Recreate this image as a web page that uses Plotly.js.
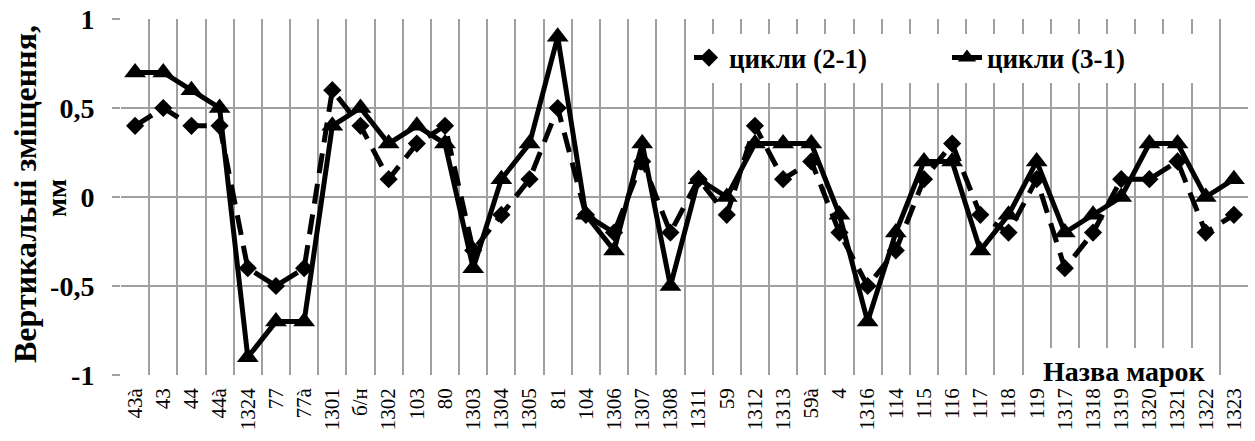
<!DOCTYPE html>
<html>
<head>
<meta charset="utf-8">
<script src="https://cdn.plot.ly/plotly-3.0.1.min.js"></script>
<style>
html,body{margin:0;padding:0;background:#fff;}
#chart{width:1255px;height:441px;}
</style>
</head>
<body>
<div id="chart"></div>
<script>
const categories = ['43à','43','44','44à','1324','77','77à','1301','б/н','1302','103','80','1303','1304','1305','81','104','1306','1307','1308','1311','59','1312','1313','59à','4','1316','114','115','116','117','118','119','1317','1318','1319','1320','1321','1322','1323'];
const cycles21 = [0.4,0.5,0.4,0.4,-0.4,-0.5,-0.4,0.6,0.4,0.1,0.3,0.4,-0.3,-0.1,0.1,0.5,-0.1,-0.2,0.2,-0.2,0.1,-0.1,0.4,0.1,0.2,-0.2,-0.5,-0.3,0.1,0.3,-0.1,-0.2,0.1,-0.4,-0.2,0.1,0.1,0.2,-0.2,-0.1];
const cycles31 = [0.7,0.7,0.6,0.5,-0.9,-0.7,-0.7,0.4,0.5,0.3,0.4,0.3,-0.4,0.1,0.3,0.9,-0.1,-0.3,0.3,-0.5,0.1,0,0.3,0.3,0.3,-0.1,-0.7,-0.2,0.2,0.2,-0.3,-0.1,0.2,-0.2,-0.1,0,0.3,0.3,0,0.1];
const yTickVals = [-1,-0.5,0,0.5,1];
const yTickText = ['-1','-0,5','0','0,5','1'];
const seriesNames = ['цикли (2-1)','цикли (3-1)'];

const W = 1255, H = 441;
const L = 121, R = 7, T = 19, B = 66;
const pw = W - L - R, ph = H - T - B;
const px = v => (v - L) / pw;
const py = v => (H - B - v) / ph;
const serif = '"Liberation Serif"';

const traces = [
  {x: categories, y: cycles21, name: seriesNames[0], type: 'scatter', mode: 'lines+markers',
   line: {color: '#000', width: 5, dash: '20px,11px'},
   marker: {symbol: 'diamond', size: 14, color: '#000'}},
  {x: categories, y: cycles31, name: seriesNames[1], type: 'scatter', mode: 'lines+markers',
   line: {color: '#000', width: 5},
   marker: {symbol: 'triangle-up', size: 19, color: '#000'}}
];

const layout = {
  width: W, height: H,
  margin: {l: L, r: R, t: T, b: B, pad: 0},
  paper_bgcolor: '#fff', plot_bgcolor: '#fff',
  showlegend: true,
  font: {family: serif, color: '#000'},
  legend: {orientation: 'h', x: px(689), y: py(58), xanchor: 'left', yanchor: 'middle',
           bgcolor: '#fff', font: {family: serif, size: 27, color: '#000', weight: 'bold'},
           entrywidth: 213, tracegroupgap: 0},
  xaxis: {type: 'category', tickson: 'boundaries', showgrid: true, gridcolor: '#a0a0a0', gridwidth: 2,
          ticks: '', tickangle: -90, ticklabelstandoff: 8,
          tickfont: {family: serif, size: 21, color: '#000'},
          showline: false, zeroline: false, range: [-0.5, categories.length - 0.5], fixedrange: true},
  yaxis: {range: [-1, 1], tickvals: yTickVals, ticktext: yTickText, showgrid: true,
          gridcolor: '#a0a0a0', gridwidth: 2, zeroline: false, showline: false,
          ticks: 'outside', ticklen: 8, tickwidth: 2, tickcolor: '#a0a0a0',
          ticklabelstandoff: 12,
          tickfont: {family: serif, size: 28, color: '#000', weight: 'bold'}},
  shapes: [
    {type: 'rect', xref: 'paper', yref: 'paper', x0: px(1036), x1: px(1213), y0: py(383), y1: py(348),
     fillcolor: '#fff', line: {width: 0}, layer: 'above'}
  ],
  annotations: [
    {text: 'Вертикальні зміщення,', xref: 'paper', yref: 'paper', x: px(25), y: py(194),
     xanchor: 'center', yanchor: 'middle', textangle: -90, showarrow: false,
     font: {family: serif, size: 32, color: '#000', weight: 'bold'}},
    {text: 'мм', xref: 'paper', yref: 'paper', x: px(56), y: py(198),
     xanchor: 'center', yanchor: 'middle', textangle: -90, showarrow: false,
     font: {family: serif, size: 28, color: '#000', weight: 'bold'}},
    {text: 'Назва марок', xref: 'paper', yref: 'paper', x: px(1124), y: py(371),
     xanchor: 'center', yanchor: 'middle', showarrow: false,
     borderpad: 0,
     font: {family: serif, size: 28, color: '#000', weight: 'bold'}}
  ]
};

Plotly.newPlot('chart', traces, layout, {displayModeBar: false, staticPlot: true});
</script>
</body>
</html>
